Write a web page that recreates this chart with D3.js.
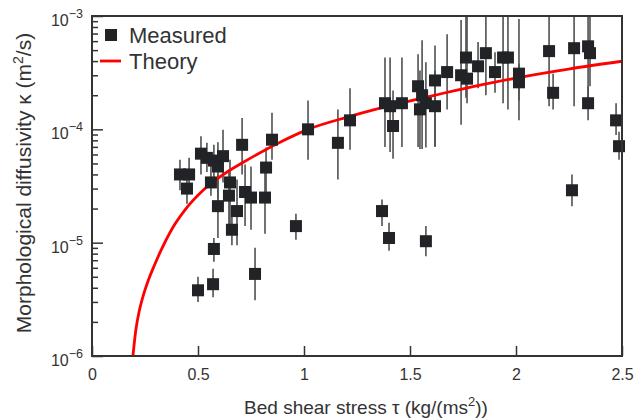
<!DOCTYPE html>
<html>
<head>
<meta charset="utf-8">
<script src="https://cdn.jsdelivr.net/npm/d3@7"></script>
<style>
  html, body { margin: 0; padding: 0; background: #fff; }
  svg { display: block; font-family: "Liberation Sans", Arial, sans-serif; }
</style>
</head>
<body>
<svg id="chart" width="635" height="419"></svg>
<script>
// measured points: bed shear stress (kg/(ms^2)) and diffusivity (m^2/s)
const measuredTau = [
  0.415, 0.458, 0.448, 0.514, 0.542, 0.575, 0.618, 0.594, 0.561, 0.651,
  0.708, 0.849, 0.821, 0.646, 0.722, 0.750, 0.816, 0.594, 0.684, 0.660,
  0.575, 0.769, 0.571, 0.500, 0.962, 1.019, 1.160, 1.217, 1.368, 1.401,
  1.575, 2.264, 1.382, 1.406, 1.462, 1.420, 1.538, 1.557, 1.547, 1.575,
  1.618, 1.618, 1.675, 1.741, 1.769, 1.764, 1.821, 1.858, 1.901, 1.939,
  1.962, 2.014, 2.014, 2.156, 2.175, 2.274, 2.340, 2.349, 2.340, 2.472, 2.486
];
const measuredKappa = [
  4.0e-5, 4.0e-5, 3.0e-5, 6.1e-5, 5.6e-5, 5.3e-5, 5.8e-5, 4.7e-5, 3.4e-5, 3.4e-5,
  7.3e-5, 8.1e-5, 4.6e-5, 2.6e-5, 2.8e-5, 2.5e-5, 2.5e-5, 2.1e-5, 1.9e-5, 1.3e-5,
  8.8e-6, 5.3e-6, 4.3e-6, 3.8e-6, 1.4e-5, 1.0e-4, 7.6e-5, 1.2e-4, 1.9e-5, 1.1e-5,
  1.03e-5, 2.9e-5, 1.7e-4, 1.6e-4, 1.7e-4, 1.07e-4, 2.4e-4, 2.0e-4, 1.5e-4, 1.7e-4,
  2.7e-4, 1.6e-4, 3.2e-4, 3.0e-4, 2.8e-4, 4.3e-4, 3.6e-4, 4.7e-4, 3.2e-4, 4.3e-4,
  4.3e-4, 3.1e-4, 2.6e-4, 4.9e-4, 2.1e-4, 5.2e-4, 5.4e-4, 4.7e-4, 1.7e-4, 1.2e-4, 7.1e-5
];
// error bar ends
const kappaLow = [
  2.9e-5, 3.0e-5, 2.2e-5, 4.0e-5, 4.2e-5, 3.2e-5, 3.4e-5, 2.4e-5, 2.6e-5, 1.3e-5,
  4.0e-5, 5.4e-5, 2.6e-5, 1.4e-5, 1.4e-5, 1.3e-5, 1.2e-5, 1.1e-5, 9.5e-6, 9.5e-6,
  6.8e-6, 3.1e-6, 3.3e-6, 3.0e-6, 1.06e-5, 5.4e-5, 3.6e-5, 6.6e-5, 1.4e-5, 8.5e-6,
  7.6e-6, 2.1e-5, 7.0e-5, 6.3e-5, 7.0e-5, 5.5e-5, 7.0e-5, 6.7e-5, 6.7e-5, 6.9e-5,
  7.1e-5, 7.0e-5, 1.5e-4, 1.1e-4, 1.7e-4, 1.9e-4, 2.3e-4, 2.0e-4, 2.1e-4, 1.7e-4,
  1.5e-4, 1.2e-4, 1.8e-4, 1.6e-4, 1.5e-4, 1.6e-4, 1.7e-4, 2.4e-4, 1.2e-4, 8.9e-5, 5.4e-5
];
const kappaHigh = [
  5.4e-5, 5.6e-5, 4.0e-5, 8.7e-5, 7.6e-5, 7.3e-5, 9.9e-5, 7.7e-5, 5.4e-5, 5.4e-5,
  1.26e-4, 1.4e-4, 6.9e-5, 4.4e-5, 4.9e-5, 4.7e-5, 5.0e-5, 4.0e-5, 3.6e-5, 2.1e-5,
  1.1e-5, 9.0e-6, 5.9e-6, 5.0e-6, 1.8e-5, 1.8e-4, 1.5e-4, 2.3e-4, 2.4e-5, 1.5e-5,
  1.4e-5, 4.0e-5, 4.3e-4, 4.3e-4, 4.3e-4, 2.2e-4, 4.6e-4, 6.1e-4, 3.3e-4, 3.9e-4,
  5.5e-4, 3.3e-4, 6.9e-4, 9.2e-4, 1.2e-3, 1.2e-3, 5.9e-4, 1.2e-3, 4.8e-4, 1.2e-3,
  1.2e-3, 9.4e-4, 3.8e-4, 1.2e-3, 3.1e-4, 1.2e-3, 1.2e-3, 1.2e-3, 2.4e-4, 1.7e-4, 9.5e-5
];

// theory curve
const theoryTau = [0.193, 0.198, 0.2075, 0.222, 0.241, 0.264, 0.2925, 0.321, 0.382, 0.439,
  0.524, 0.637, 0.712, 0.887, 1.019, 1.217, 1.453, 1.642, 1.830, 2.019, 2.255, 2.5];
const theoryKappa = [1.0e-6, 1.23e-6, 1.73e-6, 2.45e-6, 3.37e-6, 4.56e-6, 6.2e-6, 8.2e-6, 1.37e-5, 1.95e-5,
  2.9e-5, 4.2e-5, 5.1e-5, 7.7e-5, 1.0e-4, 1.3e-4, 1.7e-4, 2.05e-4, 2.45e-4, 2.88e-4, 3.42e-4, 3.99e-4];

const xTicks = [0, 0.5, 1, 1.5, 2, 2.5];
const xTickLabels = ['0', '0.5', '1', '1.5', '2', '2.5'];
const yTicks = [1e-6, 1e-5, 1e-4, 1e-3];
const yTickExponents = ['\u22126', '\u22125', '\u22124', '\u22123'];

const legendNames = ['Measured', 'Theory'];

// layout
const plot = { left: 92, right: 622, top: 16, bottom: 356 };
const ink = '#333';
const markColor = '#222327';

const svg = d3.select('#chart');

const x = d3.scaleLinear().domain([0, 2.5]).range([plot.left, plot.right]);
const y = d3.scaleLog().domain([1e-6, 1e-3]).range([plot.bottom, plot.top]);

svg.append('defs').append('clipPath').attr('id', 'clip')
  .append('rect')
  .attr('x', plot.left).attr('y', plot.top)
  .attr('width', plot.right - plot.left).attr('height', plot.bottom - plot.top);

// minor y ticks
const minor = [];
for (let e = -6; e < -3; e++) {
  for (let m = 2; m <= 9; m++) minor.push(m * Math.pow(10, e));
}
svg.append('g')
  .attr('transform', `translate(${plot.left},0)`)
  .call(d3.axisLeft(y).tickValues(minor).tickSize(-6).tickFormat(''))
  .call(g => g.select('.domain').remove())
  .call(g => g.selectAll('line').attr('stroke', ink).attr('stroke-width', 1.5));

// major y ticks
const yAxis = svg.append('g')
  .attr('transform', `translate(${plot.left},0)`)
  .call(d3.axisLeft(y).tickValues(yTicks).tickSize(-11).tickPadding(9).tickFormat(''))
  .call(g => g.select('.domain').remove())
  .call(g => g.selectAll('line').attr('stroke', ink).attr('stroke-width', 1.5));

yAxis.selectAll('.tick text').remove();
yAxis.selectAll('.tick').each(function(d, i) {
  const t = d3.select(this).append('text')
    .attr('x', -9)
    .attr('y', 9.5)
    .attr('text-anchor', 'end')
    .attr('fill', ink)
    .attr('font-size', 16);
  t.append('tspan').text('10');
  t.append('tspan').attr('dy', -8).attr('font-size', 12.5).text(yTickExponents[i]);
});

// x ticks
svg.append('g')
  .attr('transform', `translate(0,${plot.bottom})`)
  .call(d3.axisBottom(x).tickValues(xTicks).tickSize(-10).tickPadding(9)
    .tickFormat((d, i) => xTickLabels[i]))
  .call(g => g.select('.domain').remove())
  .call(g => g.selectAll('line').attr('stroke', ink).attr('stroke-width', 1.5))
  .call(g => g.selectAll('text').attr('font-size', 16).attr('fill', ink)
    .attr('font-family', '"Liberation Sans", Arial, sans-serif').attr('dy', '0.95em'));

// error bars
const pts = measuredTau.map((t, i) => ({
  tau: t, k: measuredKappa[i], lo: kappaLow[i], hi: kappaHigh[i]
}));

svg.append('g').attr('clip-path', 'url(#clip)')
  .selectAll('line')
  .data(pts)
  .enter().append('line')
  .attr('x1', d => x(d.tau)).attr('x2', d => x(d.tau))
  .attr('y1', d => y(d.lo)).attr('y2', d => y(d.hi))
  .attr('stroke', '#505050')
  .attr('stroke-width', 1.6);

// theory line
const line = d3.line()
  .x(d => x(d[0]))
  .y(d => y(d[1]))
  .curve(d3.curveMonotoneX);

svg.append('path')
  .attr('clip-path', 'url(#clip)')
  .datum(theoryTau.map((t, i) => [t, theoryKappa[i]]))
  .attr('d', line)
  .attr('fill', 'none')
  .attr('stroke', '#ff0000')
  .attr('stroke-width', 2.8);

// markers
const ms = 12;
svg.append('g')
  .selectAll('rect')
  .data(pts)
  .enter().append('rect')
  .attr('x', d => x(d.tau) - ms / 2)
  .attr('y', d => y(d.k) - ms / 2)
  .attr('width', ms).attr('height', ms)
  .attr('fill', markColor);

// frame
svg.append('rect')
  .attr('x', plot.left).attr('y', plot.top)
  .attr('width', plot.right - plot.left).attr('height', plot.bottom - plot.top)
  .attr('fill', 'none')
  .attr('stroke', ink)
  .attr('stroke-width', 2);

// axis titles
const xTitle = svg.append('text')
  .attr('x', 366)
  .attr('y', 414)
  .attr('text-anchor', 'middle')
  .attr('font-size', 19)
  .attr('fill', ink);
xTitle.append('tspan').text('Bed shear stress \u03c4 (kg/(ms');
xTitle.append('tspan').attr('dy', -8).attr('font-size', 13).text('2');
xTitle.append('tspan').attr('dy', 8).text('))');

const yTitle = svg.append('text')
  .attr('transform', 'translate(31,183) rotate(-90)')
  .attr('text-anchor', 'middle')
  .attr('font-size', 21)
  .attr('fill', ink);
yTitle.append('tspan').text('Morphological diffusivity \u03ba (m');
yTitle.append('tspan').attr('dy', -8).attr('font-size', 14).text('2');
yTitle.append('tspan').attr('dy', 8).text('/s)');

// legend
const legend = svg.append('g');
legend.append('rect')
  .attr('x', 105).attr('y', 29).attr('width', 12).attr('height', 12)
  .attr('fill', markColor);
legend.append('line')
  .attr('x1', 100).attr('x2', 121).attr('y1', 61).attr('y2', 61)
  .attr('stroke', '#ff0000').attr('stroke-width', 2.8);
legend.selectAll('text')
  .data(legendNames)
  .enter().append('text')
  .attr('x', 129)
  .attr('y', (d, i) => 43 + i * 26)
  .attr('font-size', 22)
  .attr('fill', ink)
  .text(d => d);
</script>
</body>
</html>
